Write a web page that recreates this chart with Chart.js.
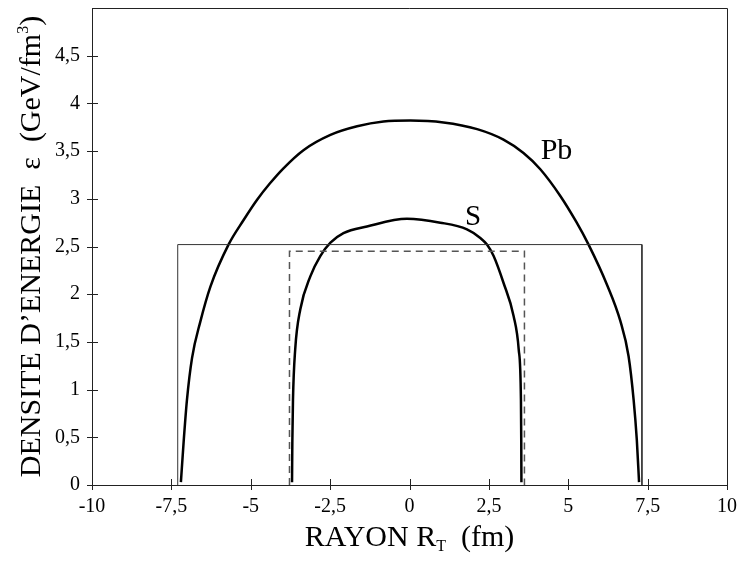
<!DOCTYPE html>
<html>
<head>
<meta charset="utf-8">
<script src="https://cdn.jsdelivr.net/npm/chart.js@4/dist/chart.umd.min.js"></script>
<style>
html,body{margin:0;padding:0;background:#fff;}
#c{display:block;}
</style>
</head>
<body>
<canvas id="c" width="741" height="563"></canvas>
<script>
// ---- data ----
const xTickValues = [-10, -7.5, -5, -2.5, 0, 2.5, 5, 7.5, 10];
const yTickValues = [0, 0.5, 1, 1.5, 2, 2.5, 3, 3.5, 4, 4.5];

const pbX = [-7.20, -7.11, -7.01, -6.85, -6.59, -6.27, -5.70, -5.22, -4.80, -4.40, -3.97, -3.34, -2.49, -1.65, -0.82, 0.03, 1.07, 2.13, 2.96, 3.59, 4.12, 4.75, 5.25, 5.64, 6.22, 6.64, 6.90, 7.06, 7.16, 7.23];
const pbY = [0.03, 0.47, 0.89, 1.33, 1.71, 2.08, 2.52, 2.78, 2.99, 3.16, 3.32, 3.51, 3.67, 3.76, 3.81, 3.82, 3.80, 3.73, 3.62, 3.48, 3.31, 3.03, 2.76, 2.52, 2.10, 1.72, 1.35, 0.89, 0.47, 0.03];

const sX = [-3.70, -3.69, -3.67, -3.60, -3.44, -3.12, -2.81, -2.49, -2.08, -1.34, -0.08, 0.97, 1.81, 2.23, 2.44, 2.65, 2.96, 3.28, 3.44, 3.51, 3.52, 3.525];
const sY = [0.03, 0.45, 0.89, 1.42, 1.84, 2.19, 2.40, 2.54, 2.64, 2.71, 2.79, 2.75, 2.68, 2.59, 2.52, 2.40, 2.12, 1.77, 1.42, 0.89, 0.45, 0.03];

const solidBoxX = [-7.30, -7.30, 7.32, 7.32];
const solidBoxY = [0, 2.52, 2.52, 0];
const dashBoxX = [-3.78, -3.78, 3.62, 3.62];
const dashBoxY = [0, 2.45, 2.45, 0];

const curveLabels = [
  {text: 'Pb', x: 4.63, y: 3.50, size: 30},
  {text: 'S', x: 2.00, y: 2.80, size: 29}
];

const xTitle = {main: 'RAYON R', sub: 'T', tail: '  (fm)'};
const yTitle = {main: 'DENSITE D\u2019ENERGIE  \u03b5  (GeV/fm', sup: '3', tail: ')'};

// ---- helpers ----
const zip = (xs, ys) => xs.map((x, i) => ({x: x, y: ys[i]}));
const fmt = v => String(v).replace('.', ',');
const FONT = '"Liberation Serif", "Times New Roman", serif';

const decorPlugin = {
  id: 'decor',
  afterDraw(chart) {
    const ctx = chart.ctx;
    const a = chart.chartArea;
    const xs = chart.scales.x, ys = chart.scales.y;
    ctx.save();
    // frame top & right
    ctx.strokeStyle = '#222';
    ctx.lineWidth = 1;
    ctx.beginPath();
    ctx.moveTo(a.left, a.top + 0.5);
    ctx.lineTo(a.right + 0.5, a.top + 0.5);
    ctx.lineTo(a.right + 0.5, a.bottom);
    ctx.stroke();
    // crossing ticks
    ctx.beginPath();
    xTickValues.forEach(v => {
      const px = Math.round(xs.getPixelForValue(v)) + 0.5;
      ctx.moveTo(px, a.bottom - 6);
      ctx.lineTo(px, a.bottom + 5);
    });
    yTickValues.forEach(v => {
      const py = Math.round(ys.getPixelForValue(v)) + 0.5;
      ctx.moveTo(a.left - 5, py);
      ctx.lineTo(a.left + 6, py);
    });
    ctx.stroke();
    // curve labels
    ctx.fillStyle = '#000';
    ctx.textAlign = 'center';
    ctx.textBaseline = 'middle';
    curveLabels.forEach(l => {
      ctx.font = l.size + 'px ' + FONT;
      ctx.fillText(l.text, xs.getPixelForValue(l.x), ys.getPixelForValue(l.y));
    });
    // x title
    ctx.textBaseline = 'alphabetic';
    ctx.textAlign = 'left';
    const big = '30px ' + FONT, small = '16px ' + FONT;
    ctx.font = big;
    const w1 = ctx.measureText(xTitle.main).width;
    const w3 = ctx.measureText(xTitle.tail).width;
    ctx.font = small;
    const w2 = ctx.measureText(xTitle.sub).width;
    let cx = (a.left + a.right) / 2 - (w1 + w2 + w3) / 2;
    const by = 546;
    ctx.font = big; ctx.fillText(xTitle.main, cx, by); cx += w1;
    ctx.font = small; ctx.fillText(xTitle.sub, cx, by + 5); cx += w2;
    ctx.font = big; ctx.fillText(xTitle.tail, cx, by);
    // y title (rotated)
    ctx.save();
    ctx.translate(40, (a.top + a.bottom) / 2);
    ctx.rotate(-Math.PI / 2);
    const bigY = '30px ' + FONT;
    ctx.font = bigY;
    const v1 = ctx.measureText(yTitle.main).width;
    const v3 = ctx.measureText(yTitle.tail).width;
    ctx.font = small;
    const v2 = ctx.measureText(yTitle.sup).width;
    let cy = -(v1 + v2 + v3) / 2;
    ctx.font = bigY; ctx.fillText(yTitle.main, cy, 0); cy += v1;
    ctx.font = small; ctx.fillText(yTitle.sup, cy, -12); cy += v2;
    ctx.font = bigY; ctx.fillText(yTitle.tail, cy, 0);
    ctx.restore();
    ctx.restore();
  }
};

const noPad = s => { s.paddingTop = 0; s.paddingBottom = 0; s.paddingLeft = 0; s.paddingRight = 0; };

new Chart(document.getElementById('c'), {
  type: 'scatter',
  data: {
    datasets: [
      {data: zip(solidBoxX, solidBoxY), showLine: true, borderColor: '#333', borderWidth: 1, pointRadius: 0, tension: 0},
      {data: zip(dashBoxX, dashBoxY), showLine: true, borderColor: '#555', borderWidth: 1.5, borderDash: [7, 5], pointRadius: 0, tension: 0},
      {data: zip(pbX, pbY), showLine: true, borderColor: '#000', borderWidth: 2.5, pointRadius: 0, cubicInterpolationMode: 'monotone'},
      {data: zip(sX, sY), showLine: true, borderColor: '#000', borderWidth: 2.5, pointRadius: 0, cubicInterpolationMode: 'monotone'}
    ]
  },
  options: {
    responsive: false,
    animation: false,
    devicePixelRatio: 1,
    layout: {padding: {left: 0, right: 14, top: 8, bottom: 0}},
    plugins: {legend: {display: false}, tooltip: {enabled: false}},
    scales: {
      x: {
        type: 'linear', min: -10, max: 10,
        afterBuildTicks: s => { s.ticks = xTickValues.map(v => ({value: v})); },
        afterFit: s => { s.height = 78; noPad(s); },
        grid: {display: false, drawTicks: false},
        border: {display: true, color: '#222', width: 1},
        ticks: {padding: 10, color: '#000', font: {family: FONT, size: 20}, callback: v => fmt(v), maxRotation: 0, autoSkip: false}
      },
      y: {
        type: 'linear', min: 0, max: 5,
        afterBuildTicks: s => { s.ticks = yTickValues.map(v => ({value: v})); },
        afterFit: s => { s.width = 92; noPad(s); },
        grid: {display: false, drawTicks: false},
        border: {display: true, color: '#222', width: 1},
        ticks: {padding: 12, color: '#000', font: {family: FONT, size: 20}, callback: v => fmt(v), autoSkip: false}
      }
    }
  },
  plugins: [decorPlugin]
});
</script>
</body>
</html>
